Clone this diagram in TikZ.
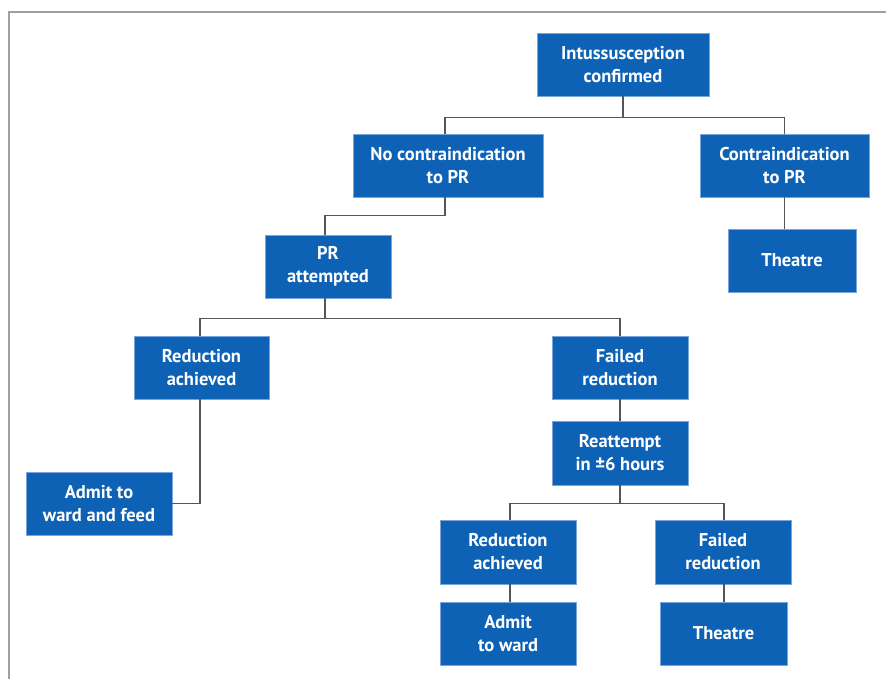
\documentclass[tikz,border=0pt]{standalone}
\usepackage{fontspec}
\setmainfont{PT Sans}
\definecolor{boxblue}{RGB}{14,98,181}
\definecolor{boxedge}{RGB}{120,165,220}
\definecolor{linegray}{RGB}{85,85,90}
\definecolor{framegray}{RGB}{160,160,160}
\begin{document}
\begin{tikzpicture}[x=1pt,y=-1pt,
  flowbox/.style={draw=boxedge,line width=0.6pt,fill=boxblue,text=white,
    font=\fontsize{18.5}{23}\selectfont\bfseries,align=center,inner sep=0pt},
  link/.style={draw=linegray,line width=1.3pt}]
\useasboundingbox (0,0) rectangle (886,679);
\draw[framegray,line width=1.5pt] (9,679) -- (9,12) -- (886,12);
% nodes
\node[flowbox,minimum width=172,minimum height=63] (ic) at (623,64.5) {Intussusception\\confirmed};
\node[flowbox,minimum width=190,minimum height=63] (nc) at (448,165.5) {No contraindication\\to PR};
\node[flowbox,minimum width=169,minimum height=63] (ci) at (784.5,165.5) {Contraindication\\to PR};
\node[flowbox,minimum width=128,minimum height=63] (th1) at (792,260.5) {Theatre};
\node[flowbox,minimum width=126,minimum height=63] (pr) at (328,266.5) {PR\\attempted};
\node[flowbox,minimum width=135,minimum height=63] (ra1) at (201.5,367.5) {Reduction\\achieved};
\node[flowbox,minimum width=136,minimum height=63] (fr1) at (620,367.5) {Failed\\reduction};
\node[flowbox,minimum width=136,minimum height=64] (re) at (620,453) {Reattempt\\in ±6 hours};
\node[flowbox,minimum width=146,minimum height=63] (aw1) at (99,503.5) {Admit to\\ward and feed};
\node[flowbox,minimum width=136,minimum height=64] (ra2) at (508,552) {Reduction\\achieved};
\node[flowbox,minimum width=136,minimum height=64] (fr2) at (723,552) {Failed\\reduction};
\node[flowbox,minimum width=136,minimum height=63] (aw2) at (508,633.5) {Admit\\to ward};
\node[flowbox,minimum width=127,minimum height=63] (th2) at (723.5,633.5) {Theatre};
% connectors
\draw[link] (ic.south) -- ++(0,21) -| ([xshift=-3pt]nc.north);
\draw[link] (ic.south) ++(0,21) -| (ci.north);
\draw[link] ([xshift=-3pt]nc.south) -- ++(0,18) -| ([xshift=-3pt]pr.north);
\draw[link] (ci.south) -- (ci.south |- th1.north);
\draw[link] ([xshift=-3pt]pr.south) -- ++(0,20) -| ([xshift=-1.5pt]ra1.north);
\draw[link] ([xshift=-3pt]pr.south) ++(0,20) -| (fr1.north);
\draw[link] (fr1.south) -- (re.north);
\draw[link] ([xshift=-1.5pt]ra1.south) |- (aw1.east);
\draw[link] (re.south) -- ++(0,18) -| ([xshift=2pt]ra2.north);
\draw[link] (re.south) ++(0,18) -| ([xshift=1pt]fr2.north);
\draw[link] ([xshift=2pt]ra2.south) -- ([xshift=2pt]aw2.north);
\draw[link] ([xshift=1pt]fr2.south) -- ([xshift=1pt]fr2.south |- th2.north);
\end{tikzpicture}
\end{document}
